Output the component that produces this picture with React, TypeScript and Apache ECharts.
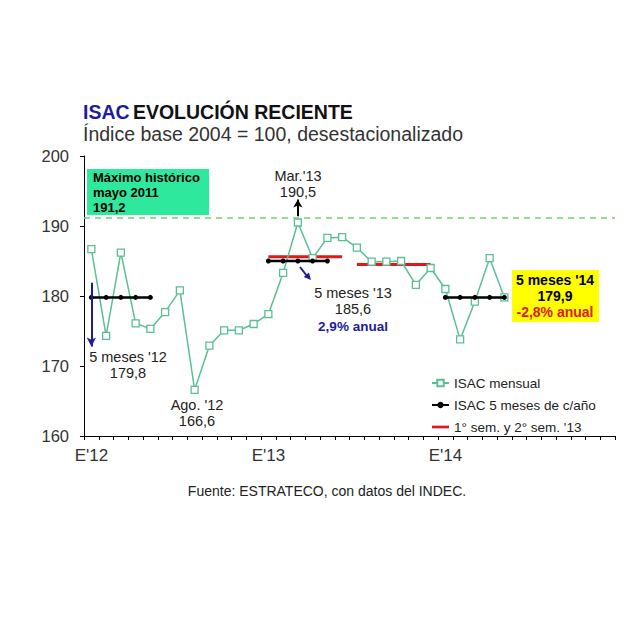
import React, { useEffect, useRef } from "react";
import * as echarts from "echarts";

const months = ["Ene", "Feb", "Mar", "Abr", "May", "Jun", "Jul", "Ago", "Sep", "Oct", "Nov", "Dic"];
const years = ["12", "13", "14"];
const categories: string[] = years.flatMap((y) => months.map((m) => m + "'" + y));

// ISAC mensual, Jan 2012 - May 2014
const isacMensual: number[] = [
  186.7, 174.3, 186.2, 176.1, 175.3, 177.7, 180.8, 166.6, 172.9, 175.1, 175.1, 176.0,
  177.4, 183.3, 190.5, 185.4, 188.3, 188.4, 186.9, 184.9, 184.9, 185.0, 181.6, 184.0,
  181.0, 173.8, 179.2, 185.4, 179.8,
];

// ISAC 5 meses de cada año (promedio ene-may)
const cincoMeses: (number | null)[] = categories.map((_, i) => {
  if (i <= 4) return 179.8;
  if (i >= 12 && i <= 16) return 185.0;
  if (i >= 24 && i <= 28) return 179.8;
  return null;
});

// Semestres 2013
const sem1: (number | null)[] = categories.map((_, i) => (i >= 12 && i <= 17 ? 185.6 : null));
const sem2: (number | null)[] = categories.map((_, i) => (i >= 18 && i <= 23 ? 184.5 : null));

const maxHistorico = 191.2;
const yTicks = { min: 160, max: 200, interval: 10 };

const FONT = "Liberation Sans, Arial, sans-serif";
const GREEN = "#5bbf93";
const BLUE = "#1c1c9c";
const RED = "#e01818";

export default function App() {
  const ref = useRef<HTMLDivElement>(null);
  useEffect(() => {
    document.body.style.margin = "0";
    const chart = echarts.init(ref.current!, undefined, { renderer: "svg" });
    const txt = (x: number, y: number, text: string, extra: any = {}) => ({
      type: "text",
      x,
      y,
      style: {
        text,
        fontFamily: FONT,
        fontSize: 14.5,
        fill: "#222",
        textAlign: "center",
        textVerticalAlign: "middle",
        ...extra,
      },
    });
    chart.setOption({
      animation: false,
      textStyle: { fontFamily: FONT },
      grid: { left: 84, right: 25, top: 156, bottom: 204 },
      xAxis: {
        type: "category",
        data: categories,
        boundaryGap: true,
        axisLine: { lineStyle: { color: "#000", width: 1 } },
        axisTick: { show: true, interval: 0, length: 4, lineStyle: { color: "#000" } },
        axisLabel: {
          interval: 11,
          fontSize: 17,
          color: "#333",
          margin: 11,
          formatter: (v: string) => (v.startsWith("Ene") ? "E'" + v.split("'")[1] : ""),
        },
        splitLine: { show: false },
      },
      yAxis: {
        type: "value",
        min: yTicks.min,
        max: yTicks.max,
        interval: yTicks.interval,
        axisLine: { show: true, lineStyle: { color: "#000", width: 1 } },
        axisTick: { show: true, length: 4, lineStyle: { color: "#000" } },
        axisLabel: { fontSize: 16.5, color: "#333", margin: 15 },
        splitLine: { show: false },
      },
      legend: {
        orient: "vertical",
        left: 426,
        top: 371,
        itemGap: 8,
        itemWidth: 17,
        itemHeight: 8,
        textStyle: { fontSize: 13.5, color: "#222", fontFamily: FONT },
        data: [
          "ISAC mensual",
          "ISAC 5 meses de c/año",
          { name: "1° sem. y 2° sem. '13", icon: "path://M0,0 L20,0 L20,3.2 L0,3.2 Z" },
        ],
      },
      series: [
        {
          name: "ISAC mensual",
          type: "line",
          data: isacMensual,
          symbol: "rect",
          symbolSize: 7,
          lineStyle: { color: GREEN, width: 1.5 },
          itemStyle: { color: "#fff", borderColor: GREEN, borderWidth: 1.3 },
          z: 3,
          markLine: {
            silent: true,
            animation: false,
            symbol: ["none", "none"],
            label: { show: false },
            data: [
              {
                yAxis: maxHistorico,
                lineStyle: { color: "#7acc7a", type: [6, 5], width: 1.5 },
              },
              [
                { coord: [0, 181.9], symbol: "none", lineStyle: { color: BLUE, width: 2, type: "solid" } },
                { coord: [0, 172.8], symbol: "arrow", symbolSize: [7, 9], lineStyle: { color: BLUE, width: 2, type: "solid" } },
              ],
              [
                { coord: [14, 191.4], symbol: "none", lineStyle: { color: "#000", width: 2, type: "solid" } },
                { coord: [14, 193.8], symbol: "arrow", symbolSize: [7, 8], lineStyle: { color: "#000", width: 2, type: "solid" } },
              ],
            ],
          },
        },
        {
          name: "ISAC 5 meses de c/año",
          type: "line",
          data: cincoMeses,
          connectNulls: false,
          symbol: "circle",
          symbolSize: 5,
          lineStyle: { color: "#000", width: 2.5 },
          itemStyle: { color: "#000" },
          z: 4,
        },
        {
          name: "1° sem. y 2° sem. '13",
          type: "line",
          data: sem1,
          showSymbol: false,
          symbol: "none",
          lineStyle: { color: RED, width: 3 },
          itemStyle: { color: RED },
          z: 2,
        },
        {
          name: "1° sem. y 2° sem. '13",
          type: "line",
          data: sem2,
          showSymbol: false,
          symbol: "none",
          lineStyle: { color: RED, width: 3 },
          itemStyle: { color: RED },
          z: 2,
        },
      ],
      graphic: [
        {
          type: "text",
          x: 83,
          y: 112,
          style: {
            text: "{b|ISAC} {k|EVOLUCIÓN RECIENTE}",
            textVerticalAlign: "middle",
            rich: {
              b: { fontFamily: FONT, fontSize: 19.5, fontWeight: "bold", fill: BLUE },
              k: { fontFamily: FONT, fontSize: 19.5, fontWeight: "bold", fill: "#111" },
            },
          },
        },
        {
          type: "text",
          x: 83,
          y: 134,
          style: {
            text: "Índice base 2004 = 100, desestacionalizado",
            fontFamily: FONT,
            fontSize: 19.5,
            fill: "#333",
            textVerticalAlign: "middle",
          },
        },
        {
          type: "rect",
          shape: { x: 87, y: 169, width: 122, height: 46 },
          style: { fill: "#2ee89e" },
        },
        {
          type: "text",
          x: 93,
          y: 170,
          style: {
            text: "Máximo histórico\nmayo 2011\n191,2",
            fontFamily: FONT,
            fontSize: 13,
            fontWeight: "bold",
            fill: "#000",
            lineHeight: 15,
          },
        },
        txt(298, 176, "Mar.'13"),
        txt(298, 192, "190,5"),
        txt(128, 357, "5 meses '12"),
        txt(128, 373, "179,8"),
        txt(197, 405, "Ago. '12"),
        txt(197, 421, "166,6"),
        txt(353, 293, "5 meses '13"),
        txt(353, 309, "185,6"),
        txt(353, 326, "2,9% anual", { fontWeight: "bold", fill: BLUE, fontSize: 13.5 }),
        { type: "line", shape: { x1: 300, y1: 267, x2: 307, y2: 276 }, style: { stroke: BLUE, lineWidth: 2 } },
        { type: "polygon", shape: { points: [[311, 280], [303.7, 277.1], [308.9, 272.5]] }, style: { fill: BLUE } },
        {
          type: "rect",
          shape: { x: 512, y: 270, width: 87, height: 52 },
          style: { fill: "#ffff00" },
        },
        txt(555, 280, "5 meses '14", { fontWeight: "bold", fill: "#000", fontSize: 14 }),
        txt(555, 296, "179,9", { fontWeight: "bold", fill: "#000", fontSize: 14 }),
        txt(555, 312, "-2,8% anual", { fontWeight: "bold", fill: RED, fontSize: 14 }),
        txt(327, 491, "Fuente: ESTRATECO, con datos del INDEC.", { fontSize: 14, fill: "#222" }),
      ],
    });
    return () => chart.dispose();
  }, []);
  return <div ref={ref} style={{ width: 640, height: 640 }} />;
}
